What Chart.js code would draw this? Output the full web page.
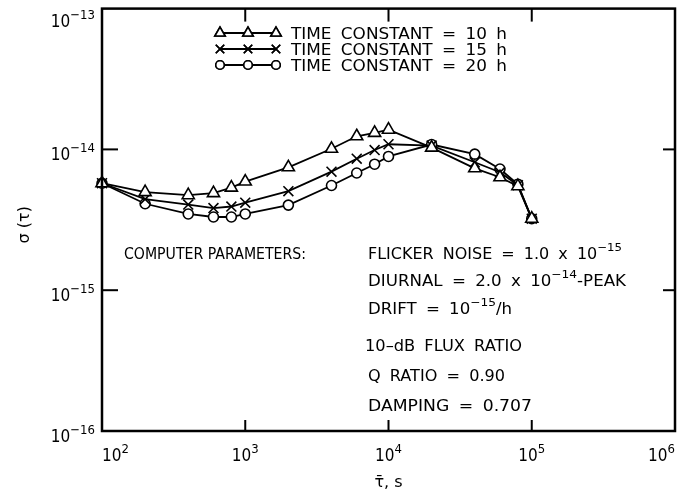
<!DOCTYPE html>
<html><head><meta charset="utf-8">
<script src="https://cdn.jsdelivr.net/npm/chart.js@4"></script>
<style>html,body{margin:0;padding:0;background:#fff}</style>
</head><body>
<canvas id="c" width="691" height="496"></canvas>
<script>
// ---- data ----
const tau = [100,200,400,600,800,1000,2000,4000,6000,8000,10000,20000,40000,60000,80000,100000];
const sigma10h = [5.75e-15,4.97e-15,4.73e-15,4.89e-15,5.35e-15,5.91e-15,7.46e-15,1.01e-14,1.24e-14,1.31e-14,1.38e-14,1.03e-14,7.34e-15,6.34e-15,5.48e-15,3.22e-15];
const sigma15h = [5.75e-15,4.43e-15,4.06e-15,3.83e-15,3.93e-15,4.18e-15,5.05e-15,6.95e-15,8.59e-15,9.90e-15,1.088e-14,1.065e-14,8.10e-15,6.88e-15,5.57e-15,3.22e-15];
const sigma20h = [5.75e-15,4.11e-15,3.48e-15,3.31e-15,3.31e-15,3.48e-15,4.02e-15,5.54e-15,6.80e-15,7.85e-15,8.91e-15,1.083e-14,9.25e-15,7.25e-15,5.66e-15,3.22e-15];
const seriesLabels = ['TIME CONSTANT = 10 h','TIME CONSTANT = 15 h','TIME CONSTANT = 20 h'];
const xTickExponents = ['2','3','4','5','6'];
const yTickExponents = ['−13','−14','−15','−16'];
const xTitle = 'τ̄, s';
const yTitle = 'σ (τ)';
const paramHeading = 'COMPUTER PARAMETERS:';
const paramLines = [
  [['FLICKER NOISE = 1.0 x 10'],['−15',1]],
  [['DIURNAL = 2.0 x 10'],['−14',1],['-PEAK']],
  [['DRIFT = 10'],['−15',1],['/h']],
  [['10–dB FLUX RATIO']],
  [['Q RATIO = 0.90']],
  [['DAMPING = 0.707']]
];

const FONT = '"DejaVu Sans", sans-serif';
const styles = ['triangle','crossRot','circle'];
const radii = [7,7,5];

function mk(label, data, i){
  return {label, data: tau.map((t,k)=>({x:t,y:data[k]})), borderColor:'#000', borderWidth:1.8,
    pointStyle:styles[i], pointRadius:radii[i], pointBorderWidth:1.6, pointBackgroundColor:'#fff',
    pointBorderColor:'#000', backgroundColor:'#fff', fill:false, tension:0, clip:false};
}

function drawPow(ctx, exp, x, y, align, bs, es){
  ctx.font = bs+'px '+FONT; const wb = ctx.measureText('10').width*0.9;
  ctx.font = es+'px '+FONT; const we = ctx.measureText(exp).width*0.9;
  const w = wb+we; let x0 = x;
  if(align==='center') x0 = x - w/2; else if(align==='right') x0 = x - w;
  ctx.save(); ctx.translate(x0,y); ctx.scale(0.9,1);
  ctx.textAlign='left'; ctx.textBaseline='alphabetic';
  ctx.font = bs+'px '+FONT; ctx.fillText('10', 0, 0);
  ctx.font = es+'px '+FONT; ctx.fillText(exp, wb/0.9, -bs*0.5);
  ctx.restore();
}

// spaces widened a little (at most 4px each), glyphs scaled for the rest
function drawRich(ctx, segs, x, y, target, size){
  const toks=[];
  segs.forEach(s=>{
    const sup=!!s[1]; const f=(sup?Math.round(size*0.75):size)+'px '+FONT;
    s[0].split(/( )/).forEach(t=>{ if(t==='') return; ctx.font=f; toks.push({t,sup,f,sp:t===' ',w:ctx.measureText(t).width}); });
  });
  const nat = toks.reduce((a,p)=>a+p.w,0);
  const nsp = toks.filter(p=>p.sp).length;
  let addSp = 0;
  if(target>nat && nsp) addSp = Math.min(4,(target-nat)/nsp);
  const g = (target - addSp*nsp)/nat;
  let cx = x; ctx.textAlign='left'; ctx.textBaseline='alphabetic';
  toks.forEach(p=>{
    if(p.sp){ cx += p.w*g + addSp; return; }
    ctx.save(); ctx.translate(cx, y + (p.sup?-size*0.55:0)); ctx.scale(g,1);
    ctx.font=p.f; ctx.fillText(p.t,0,0); ctx.restore();
    cx += p.w*g;
  });
}

const deco = {
  id:'deco',
  afterDraw(chart){
    const {ctx, chartArea:a, scales:{x,y}} = chart;
    ctx.save();
    ctx.strokeStyle='#000'; ctx.fillStyle='#000';
    ctx.lineWidth=2.5; ctx.strokeRect(a.left,a.top,a.right-a.left,a.bottom-a.top);
    ctx.lineWidth=2;
    xTickExponents.forEach((e,i)=>{
      const px = x.getPixelForValue(Math.pow(10,parseInt(e)));
      if(i>0 && i<xTickExponents.length-1){
        ctx.beginPath(); ctx.moveTo(px,a.bottom); ctx.lineTo(px,a.bottom-11); ctx.stroke();
        ctx.beginPath(); ctx.moveTo(px,a.top); ctx.lineTo(px,a.top+13); ctx.stroke();
      }
      let al='center';
      if(i===0) al='left'; else if(i===xTickExponents.length-1) al='right';
      drawPow(ctx,e,px,461,al,17,13);
    });
    yTickExponents.forEach((e,i)=>{
      const v = Math.pow(10,parseInt(e.replace('−','-')));
      const py = y.getPixelForValue(v);
      if(i>0 && i<yTickExponents.length-1){
        ctx.beginPath(); ctx.moveTo(a.left,py); ctx.lineTo(a.left+16,py); ctx.stroke();
        ctx.beginPath(); ctx.moveTo(a.right,py); ctx.lineTo(a.right-12,py); ctx.stroke();
      }
      const yy = i===0 ? 27 : py+11;
      drawPow(ctx,e,95,yy,'right',17,13);
    });
    ctx.font='16px '+FONT; ctx.textAlign='center'; ctx.textBaseline='middle';
    ctx.fillText(xTitle,(a.left+a.right)/2,483);
    ctx.save(); ctx.translate(25,(a.top+a.bottom)/2+5); ctx.rotate(-Math.PI/2);
    ctx.fillText(yTitle,0,0); ctx.restore();
    const rowsY=[33,49,65];
    chart.data.datasets.forEach((ds,i)=>{
      const yy=rowsY[i];
      ctx.lineWidth=1.8; ctx.beginPath(); ctx.moveTo(220,yy); ctx.lineTo(276,yy); ctx.stroke();
      [220,248,276].forEach(mx=>{
        ctx.fillStyle='#fff'; ctx.lineWidth=1.6;
        Chart.helpers.drawPoint(ctx,{pointStyle:ds.pointStyle,radius:ds.pointRadius*0.85,borderWidth:1.6},mx,yy);
        ctx.fill(); ctx.stroke();
      });
      ctx.fillStyle='#000';
      drawRich(ctx,[[ds.label]],291,yy+5.5,216,15);
    });
    drawRich(ctx,[[paramHeading]],124,259,182,15);
    const pY=[259,286,314,351,381,411];
    const pW=[254,258,144,157,137,164];
    paramLines.forEach((segs,i)=>{
      drawRich(ctx,segs,i===3?365:368,pY[i],pW[i],15);
    });
    ctx.restore();
  }
};

new Chart(document.getElementById('c'),{
  type:'line',
  data:{datasets:[mk(seriesLabels[0],sigma10h,0),mk(seriesLabels[1],sigma15h,1),mk(seriesLabels[2],sigma20h,2)]},
  options:{
    responsive:false, animation:false, devicePixelRatio:1,
    layout:{padding:{left:102,right:16,top:5,bottom:65}},
    plugins:{legend:{display:false},tooltip:{enabled:false}},
    scales:{
      x:{type:'logarithmic',min:100,max:1e6,display:false},
      y:{type:'logarithmic',min:1e-16,max:1e-13,display:false}
    }
  },
  plugins:[deco]
});
</script>
</body></html>
